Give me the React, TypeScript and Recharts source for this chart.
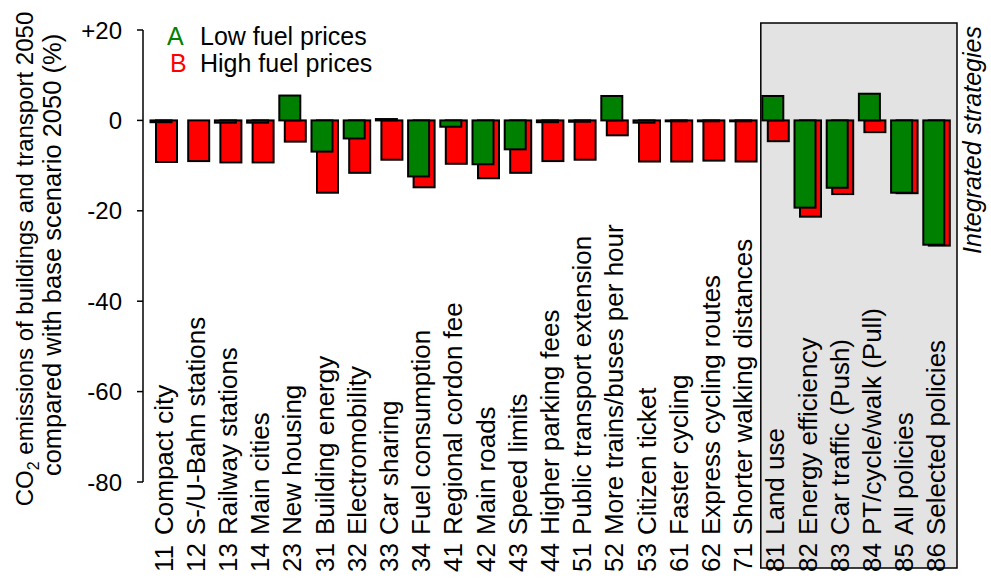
import React from 'react';
import { BarChart, Bar, XAxis, YAxis, ReferenceArea, Legend } from 'recharts';

const codes = ['11','12','13','14','23','31','32','33','34','41','42','43','44','51','52','53','61','62','71','81','82','83','84','85','86'];
const names = [
  'Compact city', 'S-/U-Bahn stations', 'Railway stations', 'Main cities', 'New housing',
  'Building energy', 'Electromobility', 'Car sharing', 'Fuel consumption', 'Regional cordon fee',
  'Main roads', 'Speed limits', 'Higher parking fees', 'Public transport extension', 'More trains/buses per hour',
  'Citizen ticket', 'Faster cycling', 'Express cycling routes', 'Shorter walking distances',
  'Land use', 'Energy efficiency', 'Car traffic (Push)', 'PT/cycle/walk (Pull)', 'All policies', 'Selected policies',
];
const lowFuel = [-0.4, 0, -0.5, -0.5, 5.5, -6.9, -4.0, 0.3, -12.4, -1.4, -9.7, -6.4, -0.4, -0.3, 5.4, -0.5, -0.2, -0.2, -0.2, 5.4, -19.3, -14.9, 5.9, -16.0, -27.5];
const highFuel = [-9.2, -9.0, -9.3, -9.3, -4.7, -16.0, -11.6, -8.7, -14.8, -9.6, -12.8, -11.6, -9.0, -8.7, -3.3, -9.1, -9.1, -8.9, -9.1, -4.6, -21.3, -16.3, -2.6, -16.1, -27.7];
const yTicks = [20, 0, -20, -40, -60, -80];
const integratedFrom = '81';
const integratedTo = '86';

const data = codes.map((c, i) => ({ code: c, name: names[i], low: lowFuel[i], high: highFuel[i] }));

const GREEN = '#008000';
const RED = '#ff0000';
const FONT = '"Liberation Sans", Arial, sans-serif';

const makeShape = (dx: number, fill: string) => (p: any) => {
  const { x, y, width, height } = p;
  if (!height || !isFinite(height)) return <g />;
  const yy = Math.min(y, y + height);
  const hh = Math.abs(height);
  return <rect x={x + dx} y={yy} width={width} height={hh} fill={fill} stroke="#000" strokeWidth={2} />;
};

const CatTick = (p: any) => {
  const { x, payload, index } = p;
  const bx = x + 9.5;
  return (
    <g fontFamily={FONT} fontSize={26} fill="#000">
      <text x={bx} y={572} transform={`rotate(-90, ${bx}, 572)`} textAnchor="start" fill="#000">{payload.value}</text>
      <text x={bx} y={535} transform={`rotate(-90, ${bx}, 535)`} textAnchor="start" fill="#000">{names[index]}</text>
    </g>
  );
};

const GreyBox = (p: any) => {
  const { x, y, width, height } = p;
  const bx = x + 2;
  const by = y - 7;
  const bw = width + 3;
  const bh = height + 93;
  const tx = bx + bw + 24;
  const ty = 140;
  return (
    <g>
      <rect x={bx} y={by} width={bw} height={bh} fill="#e3e3e3" stroke="#000" strokeWidth={1.5} />
      <text x={tx} y={ty} transform={`rotate(-90, ${tx}, ${ty})`} textAnchor="middle" fontStyle="italic" fontFamily={FONT} fontSize={25} fill="#000">Integrated strategies</text>
    </g>
  );
};

const YTitle = () => {
  const cy = 259;
  return (
    <g fontFamily={FONT} fill="#000">
      <text x={33} y={cy} transform={`rotate(-90, 33, ${cy})`} textAnchor="middle" fill="#000" fontSize={24}>
        <tspan>CO</tspan><tspan fontSize={16} dy={6}>2</tspan><tspan dy={-6}> emissions of buildings and transport 2050</tspan>
      </text>
      <text x={61} y={cy - 4} transform={`rotate(-90, 61, ${cy - 4})`} textAnchor="middle" fill="#000" fontSize={25.5}>compared with base scenario 2050 (%)</text>
    </g>
  );
};

const LegendBox = () => (
  <div style={{ fontFamily: FONT, fontSize: 25, lineHeight: '27px', color: '#000' }}>
    <div style={{ whiteSpace: 'nowrap' }}><span style={{ color: GREEN, display: 'inline-block', width: 33 }}>A</span>Low fuel prices</div>
    <div style={{ whiteSpace: 'nowrap' }}><span style={{ color: RED, display: 'inline-block', width: 33, paddingLeft: 3, boxSizing: 'border-box' }}>B</span>High fuel prices</div>
  </div>
);

export default function App() {
  return (
    <div style={{ position: 'absolute', left: 0, top: 0, background: '#fff' }}>
      <BarChart
        width={991}
        height={578}
        data={data}
        margin={{ top: 30, right: 39, left: 0, bottom: 0 }}
        barSize={21}
        barGap={-21}
        barCategoryGap={0}
        style={{ fontFamily: FONT }}
      >
        <ReferenceArea x1={integratedFrom} x2={integratedTo} y1={20} y2={-80} ifOverflow="visible" shape={GreyBox} />
        <XAxis
          dataKey="code"
          interval={0}
          height={96}
          axisLine={false}
          tickLine={false}
          padding={{ left: 4, right: 0 }}
          tick={<CatTick />}
        />
        <YAxis
          domain={[-80, 20]}
          ticks={yTicks}
          width={143}
          interval={0}
          axisLine={{ stroke: '#000', strokeWidth: 1.5 }}
          tickLine={{ stroke: '#000', strokeWidth: 1.5 }}
          tickSize={6}
          tickMargin={15}
          tick={{ fill: '#000', fontSize: 24, fontFamily: FONT }}
          tickFormatter={(v: number) => (v > 0 ? `+${v}` : `${v}`)}
          label={{ content: () => <YTitle /> }}
        />
        <Legend
          layout="horizontal"
          verticalAlign="middle"
          align="center"
          content={() => <LegendBox />}
          wrapperStyle={{ left: 167, top: 23, width: 'auto', height: 'auto' }}
        />
        <Bar dataKey="high" fill={RED} isAnimationActive={false} shape={makeShape(3, RED)} />
        <Bar dataKey="low" fill={GREEN} isAnimationActive={false} shape={makeShape(-2.5, GREEN)} />
      </BarChart>
    </div>
  );
}
